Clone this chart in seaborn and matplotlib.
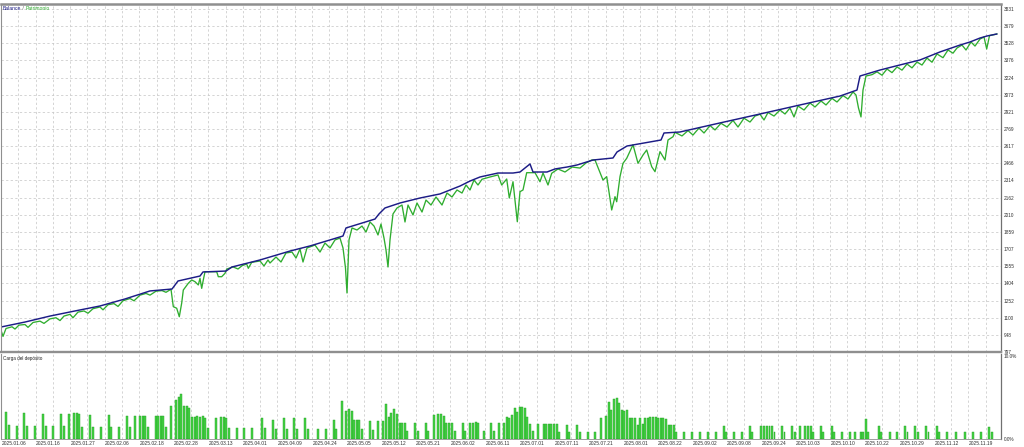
import numpy as np
import pandas as pd
import matplotlib
matplotlib.use("Agg")
import matplotlib.pyplot as plt
import matplotlib.transforms as mtransforms
import seaborn as sns

# ---------------- data (x = position on the tester's uniform index axis) ----------------
balance_t = [1, 25, 50, 75, 100, 125, 150, 172, 178, 200, 203, 226, 232, 260, 290, 310, 330,
             343, 346, 375, 379, 385, 400, 420, 440, 460, 470, 480, 498, 513, 520, 530, 533,
             547, 555, 567, 577, 593, 613, 617, 627, 661, 664, 680, 720, 760, 800, 840, 857,
             860, 880, 900, 920, 940, 960, 970, 980, 987, 997]
balance_v = [1018, 1062, 1115, 1160, 1204, 1266, 1337, 1354, 1425, 1469, 1505, 1513, 1549, 1611,
             1690, 1735, 1788, 1823, 1894, 1973, 2018, 2071, 2115, 2159, 2195, 2265, 2309, 2345,
             2380, 2380, 2389, 2460, 2389, 2389, 2416, 2433, 2451, 2495, 2513, 2566, 2619, 2672,
             2734, 2743, 2823, 2902, 2982, 3061, 3114, 3238, 3291, 3336, 3380, 3451, 3512, 3539,
             3574, 3592, 3610]

equity_t = [1, 3, 6, 12, 15, 19, 25, 28, 33, 40, 44, 50, 56, 60, 64, 70, 73, 78, 84, 88, 93, 100,
            103, 108, 114, 118, 123, 130, 134, 140, 146, 150, 156, 162, 166, 171, 173.3, 176.7,
            179.3, 181.7, 183.3, 188.3, 191.7, 195, 198.3, 200, 201.7, 203.3, 205, 216.7, 218.3,
            221.7, 225, 226.7, 233, 238, 242, 246.7, 248.3, 251.7, 260, 264, 268, 270, 276, 281,
            286, 292, 296, 300, 303, 307, 315, 320, 325, 330, 335, 340, 343, 345.5, 347, 349, 352,
            357, 362, 366, 370, 374, 378, 381, 384, 386, 388, 390, 393, 397, 402, 405, 408, 413,
            417, 422, 426, 431, 436, 442, 447, 452, 457, 462, 466, 470, 474, 478, 482, 490, 498,
            501.7, 506.7, 509.3, 513, 517.3, 520, 523, 526.7, 535, 540, 543, 548, 551.7, 558, 565,
            572, 580, 586, 591.7, 595, 603, 606.7, 611.7, 615, 616.7, 620, 623, 626.7, 633, 638,
            643, 646.7, 651.7, 655, 660, 665, 668, 673, 675, 682, 688, 693, 699, 704, 710, 715,
            721, 727, 733, 738, 744, 750, 755, 760, 764, 768, 774, 780, 785, 790, 794, 798, 804,
            810, 815, 821, 826, 832, 837, 843, 848, 853, 856, 858.5, 861, 863, 866, 872, 877, 882,
            887, 892, 897, 902, 907, 912, 917, 922, 927, 932, 937, 943, 948, 953, 957, 962, 966,
            971, 975, 980, 984, 986.7, 989.5, 997]
equity_v = [990, 935, 1005, 1020, 1000, 1035, 1040, 1015, 1058, 1070, 1050, 1090, 1100, 1075, 1115,
            1130, 1100, 1150, 1160, 1140, 1180, 1195, 1170, 1215, 1225, 1200, 1250, 1270, 1250, 1300,
            1315, 1300, 1335, 1340, 1325, 1352, 1198, 1184, 1109, 1230, 1345, 1405, 1434, 1419, 1390,
            1449, 1360, 1434, 1507, 1507, 1463, 1463, 1493, 1530, 1550, 1531, 1560, 1575, 1537, 1590,
            1602, 1558, 1611, 1584, 1637, 1593, 1673, 1681, 1628, 1708, 1593, 1717, 1743, 1681, 1761,
            1717, 1788, 1805, 1717, 1540, 1319, 1788, 1894, 1876, 1911, 1858, 1947, 1911, 1832, 1929,
            1805, 1699, 1549, 1788, 2018, 2071, 2097, 1947, 2097, 2009, 2115, 2035, 2141, 2097, 2168,
            2097, 2203, 2168, 2230, 2203, 2274, 2230, 2318, 2274, 2325, 2345, 2363, 2274, 2327, 2159,
            2303, 1949, 2215, 2230, 2383, 2383, 2303, 2380, 2274, 2378, 2416, 2389, 2433, 2424, 2469,
            2495, 2495, 2318, 2348, 2053, 2171, 2126, 2348, 2466, 2510, 2630, 2466, 2539, 2584, 2436,
            2392, 2569, 2495, 2672, 2701, 2740, 2708, 2755, 2716, 2778, 2734, 2800, 2761, 2820, 2787,
            2845, 2787, 2865, 2831, 2884, 2900, 2849, 2915, 2884, 2937, 2902, 2955, 2876, 2973, 2937,
            2999, 2964, 3017, 2982, 3040, 3008, 3065, 3035, 3097, 3070, 2955, 2876, 3114, 3238, 3250,
            3275, 3245, 3300, 3268, 3318, 3290, 3344, 3310, 3362, 3335, 3397, 3360, 3433, 3400, 3468,
            3440, 3486, 3512, 3468, 3539, 3503, 3565, 3583, 3477, 3595, 3610]

load_t = [5.7, 9, 16.7, 24.3, 27, 35, 42.7, 45.7, 53.3, 61, 63.7, 69, 74, 76.7, 79.3, 82, 90.3,
          93, 100.7, 109, 111.3, 119, 127, 129.7, 134.7, 140, 142.7, 145.3, 147.7, 155.7, 158.3,
          160.7, 163.3, 166, 171, 176.3, 178.7, 181.3, 184, 186.7, 189.3, 192, 194.7, 197.3,
          200, 202.7, 205.3, 208, 216, 221.3, 224, 226.3, 228.7, 236.7, 244.3, 252,
          262, 265, 272.7, 276, 283.7, 286.7, 294.3, 297.3, 305, 308, 318, 325.7, 333.7, 336.3,
          342, 346.3, 349, 351.7, 354.3, 356.7, 359.3, 362, 370.3, 373, 378.3, 383, 386, 388.7,
          391.3, 394, 396.7, 399.7, 402, 404.7, 407, 415, 418, 425.7, 428.3, 433.7, 438.3, 441,
          443.7, 446.3, 449, 451.7, 454.7, 462.7, 465, 470.3, 473, 475.7, 478.3, 484, 491.3, 494,
          499, 504, 506.7, 509.3, 512,
          514.7, 517, 519.7, 522.3, 524.7, 527.3, 530, 532.7, 538.3, 543.7, 546, 548.7, 551.3,
          554, 556.7, 559.3, 566.7, 569.3, 577.3, 580, 587.7, 595.3, 600.7, 606.3, 608.7, 611.3,
          614, 616.7, 619.3, 622, 624.3, 627, 629.7, 632.3, 635, 637.7, 640, 642.7, 645.3, 647.7,
          650.3, 653, 655.7, 658, 660.7, 663.3, 666, 668.7, 671, 673.7, 676.3, 684.3, 692.3,
          700.3, 708, 716, 724, 726.3, 734.3, 742, 750, 752.3, 761, 764, 767, 769.5, 772, 774.5,
          782, 784.5, 792.3, 795, 800, 805.3, 808, 810.7, 813.3, 820.7, 823.3, 831.7, 834.3, 842,
          850, 855.3, 860.7, 863, 865.7, 868.3, 878.7, 881.3, 889.7, 897.3, 905, 907.5, 915,
          917.7, 926, 928.5, 936.7, 939.3, 947, 956, 965, 973, 981.3, 989, 991.7]
load_pct = [3.2, 1.65, 1.57, 3.1, 1.57, 1.57, 3.0, 1.53, 1.53, 2.9, 1.53, 2.9, 3.06, 3.06, 2.9,
            1.45, 2.82, 1.45, 1.45, 2.82, 1.45, 1.45, 2.7, 1.37, 2.7, 2.75, 2.75, 2.7, 1.37, 2.75,
            2.75, 2.75, 2.7, 1.37, 3.9, 4.6, 4.9, 5.3, 3.9, 3.9, 3.7, 2.55, 2.55, 2.7, 2.55, 2.7,
            2.43, 1.25, 2.5, 2.6, 2.6, 2.5, 1.25, 1.25, 1.25, 1.25,
            2.43, 1.25, 2.24, 1.18, 2.43, 1.18, 2.43, 1.18, 2.43, 1.18, 1.18, 1.18, 2.24, 1.18,
            4.47, 3.3, 3.5, 3.3, 2.24, 2.24, 2.24, 1.18, 2.12, 1.06, 2.12, 2.12, 4.1, 2.63, 3.1,
            3.5, 2.9, 1.92, 1.92, 1.92, 0.94, 1.92, 0.94, 1.92, 0.94, 2.82, 3.0, 3.0, 2.75, 1.92,
            1.92, 1.84, 0.94, 1.84, 0.94, 1.84, 1.92, 1.96, 1.84, 0.94, 1.84, 0.94, 1.84, 1.92,
            2.63, 2.43, 2.82,
            3.6, 3.2, 3.8, 3.8, 3.6, 2.63, 1.73, 0.94, 1.73, 1.73, 1.73, 1.73, 1.73, 1.73, 1.73,
            0.86, 1.65, 0.86, 1.65, 0.86, 0.86, 0.86, 2.5, 2.7, 4.4, 3.4, 4.7, 4.8, 4.2, 3.4, 3.33,
            3.4, 2.5, 2.5, 2.43, 1.65, 2.43, 1.73, 2.5, 2.43, 2.55, 2.55, 2.55, 2.5, 2.5, 2.43, 2.4,
            1.65, 1.65, 1.65, 0.86, 0.86, 0.86, 0.86, 0.86, 0.86, 1.53, 0.86, 0.86, 0.86, 1.53,
            0.86, 1.5, 1.57, 1.57, 1.57, 1.5, 0.78,
            1.57, 0.78, 1.5, 0.78, 1.57, 1.57, 1.57, 1.57, 0.78, 1.57, 0.78, 1.5, 0.78, 0.78, 0.78,
            0.78, 0.86, 0.86, 2.35, 0.78, 1.5, 0.78, 0.78, 0.78, 1.5, 0.78, 1.5, 0.78, 1.5, 0.78,
            1.5, 0.78, 0.78, 0.78, 0.78, 0.78, 0.78, 1.45, 0.78]

date_labels = ["2025.01.06", "2025.01.16", "2025.01.27", "2025.02.06", "2025.02.18", "2025.02.28",
               "2025.03.13", "2025.04.01", "2025.04.09", "2025.04.24", "2025.05.05", "2025.05.12",
               "2025.05.21", "2025.06.02", "2025.06.11", "2025.07.01", "2025.07.11", "2025.07.21",
               "2025.08.01", "2025.08.22", "2025.09.02", "2025.09.08", "2025.09.24", "2025.10.03",
               "2025.10.10", "2025.10.22", "2025.10.29", "2025.11.12", "2025.11.19"]
price_ticks = [797, 948, 1100, 1252, 1404, 1555, 1707, 1859, 2010, 2162, 2314, 2466, 2617, 2769,
               2921, 3073, 3224, 3376, 3528, 3679, 3831]
load_ticks = [0, 10]
load_tick_labels = ["0.0%", "10.0%"]

# ---------------- style ----------------
NAVY = "#1c1c86"
GREEN = "#2fad2f"
BAR_FACE = "#46d446"
BAR_EDGE = "#1f9a1f"
GRID = "#c9c9c9"
BORDER = "#8f8f8f"
TXT = "#303030"

sns.set_theme(style="white")
plt.rcParams["font.family"] = ["Liberation Sans", "DejaVu Sans"]

W, H = 1024, 447
fig = plt.figure(figsize=(W / 100, H / 100), dpi=100)
fig.patch.set_facecolor("white")
ax1 = fig.add_axes([1 / W, 1 - 352 / H, 1000 / W, 348 / H])
ax2 = fig.add_axes([1 / W, 1 - 439 / H, 1000 / W, 85 / H])

# lines
sns.lineplot(x=equity_t, y=equity_v, ax=ax1, color=GREEN, linewidth=0.95,
             sort=False, estimator=None)
sns.lineplot(x=balance_t, y=balance_v, ax=ax1, color=NAVY, linewidth=1.05,
             sort=False, estimator=None)

# deposit load bars
load_df = pd.DataFrame({"t": load_t, "load": load_pct})
sns.barplot(data=load_df, x="t", y="load", ax=ax2, native_scale=True, color=BAR_FACE,
            edgecolor=BAR_EDGE, linewidth=0.3, saturation=1, errorbar=None, width=0.7)

XMIN, XMAX = 1, 1001
grid_x = 18.3 + 17.275 * np.arange(57)

for ax in (ax1, ax2):
    ax.set_xlim(XMIN, XMAX)
    ax.set_xlabel("")
    ax.set_ylabel("")
    ax.set_facecolor("white")
    ax.set_xticks(grid_x)
    ax.grid(True, axis="x", color=GRID, linestyle=(0, (3, 3)), linewidth=0.55)
    ax.set_axisbelow(True)
    ax.yaxis.tick_right()
    ax.tick_params(axis="both", length=0, colors=TXT)

ax1.set_ylim(797, 3875)
ax1.set_yticks(price_ticks)
ax1.set_yticklabels([str(v) for v in price_ticks], fontsize=3.4, color=TXT)
ax1.tick_params(axis="y", pad=2)
ax1.grid(True, axis="y", color=GRID, linestyle=(0, (3, 3)), linewidth=0.55)
ax1.set_xticklabels([])

ax2.set_ylim(0, 10)
ax2.set_yticks(load_ticks)
ax2.set_yticklabels(load_tick_labels, fontsize=3.4, color=TXT)
ax2.tick_params(axis="y", pad=2)
ax2.get_yticklabels()[1].set_verticalalignment("top")

xlabels = []
for i in range(len(grid_x)):
    xlabels.append(date_labels[i // 2] if i % 2 == 0 else "")
ax2.set_xticklabels(xlabels, fontsize=3.55, color=TXT)
ax2.tick_params(axis="x", pad=1.2)
shift = mtransforms.ScaledTranslation(-4.5 / 100, 0, fig.dpi_scale_trans)
for lab in ax2.get_xticklabels():
    lab.set_transform(lab.get_transform() + shift)

# borders
for name, sp in ax1.spines.items():
    sp.set_visible(True)
    sp.set_color(BORDER)
ax1.spines["top"].set_linewidth(1.8)
ax1.spines["bottom"].set_linewidth(1.7)
ax1.spines["left"].set_linewidth(0.8)
ax1.spines["right"].set_linewidth(0.9)
ax1.spines["right"].set_color("#707070")
for name, sp in ax2.spines.items():
    sp.set_visible(True)
    sp.set_color(BORDER)
ax2.spines["top"].set_visible(False)
ax2.spines["left"].set_linewidth(0.8)
ax2.spines["right"].set_linewidth(0.9)
ax2.spines["right"].set_color("#707070")
ax2.spines["bottom"].set_linewidth(0.6)

# titles
t1 = ax1.annotate("Balance", xy=(0, 1), xycoords="axes fraction", xytext=(2, -4),
                  textcoords="offset pixels", ha="left", va="center", fontsize=3.6, color=NAVY)
t2 = ax1.annotate(" / ", xy=(1, 0.5), xycoords=t1, ha="left", va="center", fontsize=3.6,
                  color="#555555")
t3 = ax1.annotate("Patrimonio", xy=(1, 0.5), xycoords=t2, ha="left", va="center",
                  fontsize=3.6, color=GREEN)
ax2.annotate("Carga del depósito", xy=(0, 1), xycoords="axes fraction", xytext=(2, -4.5),
             textcoords="offset pixels", ha="left", va="center", fontsize=3.3, color="#202020")

fig.savefig("out.png", dpi=100, facecolor="white")
